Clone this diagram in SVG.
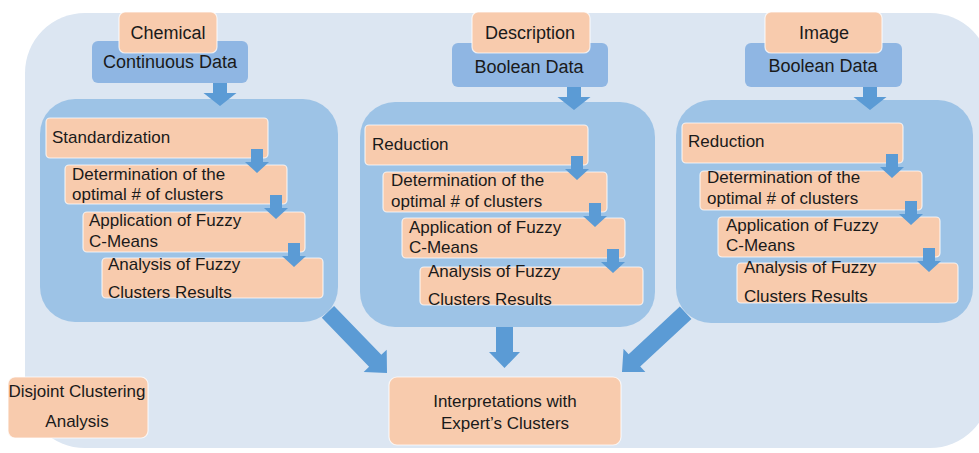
<svg xmlns="http://www.w3.org/2000/svg" xmlns:xlink="http://www.w3.org/1999/xlink" width="979" height="453" viewBox="0 0 979 453">
<defs>
<style>
.bg{fill:#dce6f2}
.panel{fill:#9dc3e6}
.blue{fill:#8fb6e3}
.or{fill:#f8cbad;stroke:#ffffff;stroke-opacity:0.75;stroke-width:1.2}
.ar{fill:#5b9bd5}
text{font-family:"Liberation Sans",Arial,sans-serif;fill:#1a1a1a}
.t18{font-size:18px}
.t17{font-size:17px}
.c{text-anchor:middle}
</style>
<path id="sa" d="M-6,0 h12 v13 h6 l-12,11 l-12,-11 h6 z"/>
<path id="ta" d="M-7,0 h14 v10 h9.5 l-16.5,13 l-16.5,-13 h9.5 z"/>
</defs>
<rect class="bg" x="25" y="13" width="965" height="435" rx="60"/>

<g id="chemical-source">
<rect class="blue" x="92" y="41" width="156" height="42" rx="6"/>
<rect class="or" x="119" y="12" width="98" height="41" rx="6"/>
<text class="t18 c" x="168" y="39">Chemical</text>
<text class="t18 c" x="170" y="68">Continuous Data</text>
</g>
<g id="description-source">
<rect class="blue" x="452" y="43" width="156" height="44" rx="6"/>
<rect class="or" x="472" y="12" width="118" height="41" rx="6"/>
<text class="t18 c" x="530" y="39">Description</text>
<text class="t18 c" x="529" y="73">Boolean Data</text>
</g>
<g id="image-source">
<rect class="blue" x="745" y="43" width="157" height="44" rx="6"/>
<rect class="or" x="765" y="12" width="117" height="41" rx="6"/>
<text class="t18 c" x="824" y="39">Image</text>
<text class="t18 c" x="823" y="72">Boolean Data</text>
</g>

<g id="chemical-panel">
<rect class="panel" x="40" y="99" width="298" height="223" rx="35"/>
<rect class="or" x="46" y="118" width="222" height="40" rx="4"/>
<text class="t17" x="52" y="143">Standardization</text>
<rect class="or" x="65" y="165" width="222" height="39" rx="4"/>
<text class="t17" x="72" y="180">Determination of the</text>
<text class="t17" x="72" y="200">optimal # of clusters</text>
<rect class="or" x="83" y="212" width="222" height="40" rx="4"/>
<text class="t17" x="89" y="226">Application of Fuzzy</text>
<text class="t17" x="89" y="247">C-Means</text>
<rect class="or" x="102" y="258" width="221" height="40" rx="4"/>
<text class="t17" x="108" y="270">Analysis of Fuzzy</text>
<text class="t17" x="108" y="298">Clusters Results</text>
</g>

<g id="description-panel">
<rect class="panel" x="360" y="102" width="295" height="225" rx="35"/>
<rect class="or" x="365" y="125" width="223" height="40" rx="4"/>
<text class="t17" x="372" y="150">Reduction</text>
<rect class="or" x="383" y="172" width="224" height="40" rx="4"/>
<text class="t17" x="391" y="186">Determination of the</text>
<text class="t17" x="391" y="207">optimal # of clusters</text>
<rect class="or" x="402" y="218" width="223" height="40" rx="4"/>
<text class="t17" x="409" y="233">Application of Fuzzy</text>
<text class="t17" x="409" y="253">C-Means</text>
<rect class="or" x="420" y="267" width="223" height="38" rx="4"/>
<text class="t17" x="428" y="277">Analysis of Fuzzy</text>
<text class="t17" x="428" y="305">Clusters Results</text>
</g>

<g id="image-panel">
<rect class="panel" x="676" y="100" width="297" height="223" rx="35"/>
<rect class="or" x="682" y="123" width="221" height="40" rx="4"/>
<text class="t17" x="688" y="147">Reduction</text>
<rect class="or" x="700" y="171" width="222" height="39" rx="4"/>
<text class="t17" x="707" y="183">Determination of the</text>
<text class="t17" x="707" y="204">optimal # of clusters</text>
<rect class="or" x="718" y="217" width="222" height="40" rx="4"/>
<text class="t17" x="726" y="231">Application of Fuzzy</text>
<text class="t17" x="726" y="251">C-Means</text>
<rect class="or" x="737" y="263" width="221" height="40" rx="4"/>
<text class="t17" x="744" y="273">Analysis of Fuzzy</text>
<text class="t17" x="744" y="302">Clusters Results</text>
</g>

<g id="interpretations">
<rect class="or" x="389" y="377" width="232" height="68" rx="8"/>
<text class="t17 c" x="505" y="407">Interpretations with</text>
<text class="t17 c" x="505" y="429">Expert’s Clusters</text>
</g>

<g id="disjoint-label">
<rect class="or" x="8" y="377" width="140" height="61" rx="7"/>
<text class="t17 c" x="77" y="397">Disjoint Clustering</text>
<text class="t17 c" x="77" y="427">Analysis</text>
</g>

<g id="connectors" class="ar">
<use xlink:href="#ta" x="220" y="83"/>
<use xlink:href="#ta" x="574" y="87"/>
<use xlink:href="#ta" x="870" y="87"/>
<use xlink:href="#sa" x="257" y="149"/>
<use xlink:href="#sa" x="276" y="195"/>
<use xlink:href="#sa" x="294" y="243"/>
<use xlink:href="#sa" x="577" y="156"/>
<use xlink:href="#sa" x="595" y="203"/>
<use xlink:href="#sa" x="613" y="249"/>
<use xlink:href="#sa" x="892" y="154"/>
<use xlink:href="#sa" x="911" y="201"/>
<use xlink:href="#sa" x="929" y="248"/>
<polygon transform="translate(387,373) rotate(46)" points="0,0 -17,-16 -17,-8.5 -85,-8.5 -85,8.5 -17,8.5 -17,16"/>
<polygon points="496,327 513,327 513,352 520,352 504.5,368 489,352 496,352"/>
<polygon transform="translate(622,372) rotate(137)" points="0,0 -17,-16 -17,-8.5 -87,-8.5 -87,8.5 -17,8.5 -17,16"/>
</g>
</svg>
